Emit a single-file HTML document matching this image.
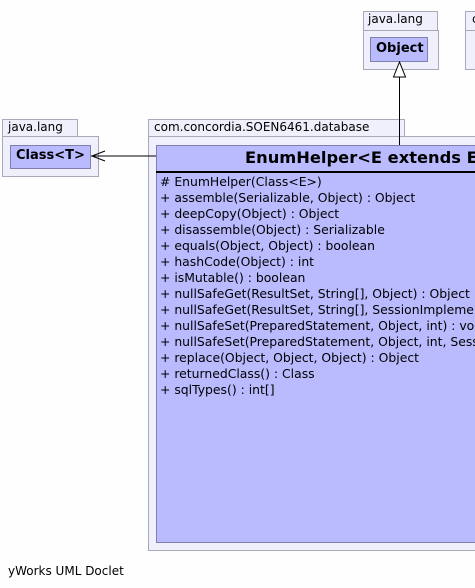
<!DOCTYPE html><html><head><style>
html,body{margin:0;width:475px;height:588px;overflow:hidden}
body{background:#fefefe;position:relative;font-family:"DejaVu Sans","Liberation Sans",sans-serif;}
#w{position:absolute;left:0;top:0;width:475px;height:588px;overflow:hidden}
.a{position:absolute;box-sizing:border-box}
.pk{background:#f0f0fc;border:1px solid #a8a8b8}
.cl{background:#babaff;border:1px solid #8080b0}
.t{position:absolute;font-size:12px;color:#000;white-space:nowrap}
</style></head><body><div id="w">
<div class="a pk" style="left:363px;top:11px;width:75px;height:20px"></div>
<div class="t" style="left:368px;top:12px">java.lang</div>
<div class="a pk" style="left:363px;top:30px;width:76px;height:40px"></div>
<div class="a cl" style="left:370px;top:37px;width:58px;height:25px"></div>
<div class="t" style="left:376px;top:41px;font-weight:bold;font-size:13px">Object</div>
<div class="a pk" style="left:465px;top:11px;width:20px;height:20px"></div>
<div class="t" style="left:472px;top:12px">c</div>
<div class="a pk" style="left:465px;top:30px;width:20px;height:40px"></div>

<div class="a pk" style="left:2px;top:119px;width:76px;height:18px"></div>
<div class="t" style="left:8px;top:120px">java.lang</div>
<div class="a pk" style="left:2px;top:136px;width:97px;height:41px"></div>
<div class="a cl" style="left:10px;top:145px;width:81px;height:24px"></div>
<div class="t" style="left:16px;top:148px;font-weight:bold;font-size:13px">Class&lt;T&gt;</div>

<div class="a pk" style="left:148px;top:119px;width:257px;height:18px"></div>
<div class="t" style="left:154px;top:120px">com.concordia.SOEN6461.database</div>
<div class="a pk" style="left:148px;top:136px;width:340px;height:415px"></div>
<div class="a cl" style="left:156px;top:145px;width:330px;height:398px"></div>
<div class="a" style="left:156px;top:171px;width:330px;height:2px;background:#000"></div>
<div class="t" style="left:245px;top:148px;font-weight:bold;font-size:16.3px">EnumHelper&lt;E extends Enum&gt;</div>
<div class="t" style="left:160px;top:174px;line-height:16px;font-size:12.4px">
# EnumHelper(Class&lt;E&gt;)<br>+ assemble(Serializable, Object) : Object<br>+ deepCopy(Object) : Object<br>+ disassemble(Object) : Serializable<br>+ equals(Object, Object) : boolean<br>+ hashCode(Object) : int<br>+ isMutable() : boolean<br>+ nullSafeGet(ResultSet, String[], Object) : Object<br>+ nullSafeGet(ResultSet, String[], SessionImplementor)<br>+ nullSafeSet(PreparedStatement, Object, int) : void<br>+ nullSafeSet(PreparedStatement, Object, int, Session<br>+ replace(Object, Object, Object) : Object<br>+ returnedClass() : Class<br>+ sqlTypes() : int[]</div>

<svg class="a" style="left:0;top:0" width="475" height="588">
<line x1="156" y1="156" x2="91" y2="156" stroke="#000"/>
<polyline points="105,151 92,156 105,161" fill="none" stroke="#000"/>
<line x1="399.5" y1="145" x2="399.5" y2="77" stroke="#000"/>
<polygon points="399.5,62 393.5,77 405.5,77" fill="#fff" stroke="#000"/>
</svg>
<div class="t" style="left:8px;top:564px">yWorks UML Doclet</div>
</div></body></html>
